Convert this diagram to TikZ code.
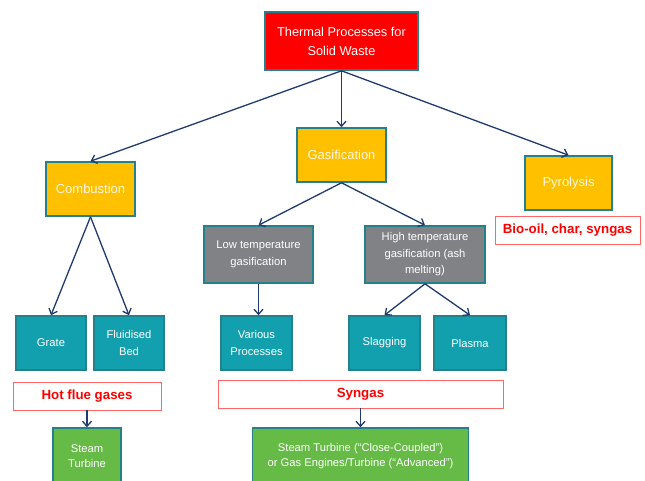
\documentclass[tikz,border=0pt]{standalone}
\usepackage{fontspec}
\setmainfont{Liberation Sans}
\usetikzlibrary{arrows.meta}
\definecolor{tred}{HTML}{FF0000}
\definecolor{tyel}{HTML}{FFC000}
\definecolor{tgray}{HTML}{808285}
\definecolor{tteal}{HTML}{12A0AE}
\definecolor{tgreen}{HTML}{66BB46}
\definecolor{tborder}{HTML}{24818C}
\definecolor{tarrow}{HTML}{1F3A6E}
\definecolor{ttext}{HTML}{FFF8E8}
\tikzset{
  box/.style={draw=tborder, line width=1.6pt, align=center, text=white, inner sep=1pt},
  titlebox/.style={box, fill=tred, font=\fontsize{12.8}{19}\selectfont},
  yelbox/.style={box, fill=tyel, text=ttext, font=\fontsize{13}{16}\selectfont},
  graybox/.style={box, fill=tgray, font=\fontsize{11.2}{16.5}\selectfont},
  tealbox/.style={box, fill=tteal, font=\fontsize{11.2}{17}\selectfont},
  greenbox/.style={box, fill=tgreen, font=\fontsize{11.2}{15}\selectfont},
  redlabel/.style={draw=tred!60, line width=0.8pt, fill=white, text=tred, font=\bfseries\fontsize{13.3}{16}\selectfont, inner sep=1pt},
  arr/.style={draw=tarrow, line width=1.3pt, -{Straight Barb[length=5pt,width=9pt]}},
}
\begin{document}
\begin{tikzpicture}[x=1pt,y=-1pt]
\useasboundingbox (0,0) rectangle (645,481);
\begin{scope}
\clip (0,0) rectangle (645,481);
\node[titlebox, minimum width=153pt, minimum height=58pt] (title) at (341.5,41) {Thermal Processes for\\Solid Waste};
\node[yelbox, minimum width=89pt, minimum height=54pt] (comb) at (90.5,189) {Combustion};
\node[yelbox, minimum width=89pt, minimum height=54pt] (gas) at (341.5,155) {Gasification};
\node[yelbox, minimum width=87pt, minimum height=54pt] (pyro) at (568.5,183) {Pyrolysis};
\node[redlabel, minimum width=145pt, minimum height=28pt] (bio) at (567.5,230) {Bio-oil, char, syngas};
\node[graybox, minimum width=109pt, minimum height=57pt] (low) at (258.5,254.5) {Low temperature\\gasification};
\node[graybox, minimum width=120pt, minimum height=57pt] (high) at (425,254.5) {High temperature\\gasification (ash\\melting)};
\node[tealbox, minimum width=70pt, minimum height=54pt] (grate) at (51,343) {Grate};
\node[tealbox, minimum width=70pt, minimum height=54pt] (fluid) at (129,343) {Fluidised\\Bed};
\node[redlabel, minimum width=148pt, minimum height=28pt] (hot) at (87,396) {Hot flue gases};
\node[tealbox, minimum width=71pt, minimum height=54pt] (various) at (256.5,343) {Various\\Processes};
\node[tealbox, minimum width=71pt, minimum height=54pt] (slag) at (384.5,343) {Slagging};
\node[tealbox, minimum width=72pt, minimum height=54pt] (plasma) at (470,343) {Plasma};
\node[redlabel, minimum width=285pt, minimum height=28pt] (syngas) at (360.5,394) {Syngas};
\node[greenbox, minimum width=68pt, minimum height=56pt] (steam1) at (87,456) {Steam\\Turbine};
\node[greenbox, minimum width=216pt, minimum height=56pt] (steam2) at (360.5,456) {Steam Turbine (“Close-Coupled”)\\or Gas Engines/Turbine (“Advanced”)};
\end{scope}
\draw[arr] (title.south) -- (comb.north);
\draw[arr] (title.south) -- (gas.north);
\draw[arr] (title.south) -- (pyro.north);
\draw[arr] (comb.south) -- (grate.north);
\draw[arr] (comb.south) -- (fluid.north);
\draw[arr] (gas.south) -- (low.north);
\draw[arr] (gas.south) -- (high.north);
\draw[arr] (low.south) -- (low.south |- various.north);
\draw[arr] (high.south) -- (slag.north);
\draw[arr] (high.south) -- (plasma.north);
\draw[arr] (hot.south) -- (steam1.north);
\draw[arr] (syngas.south) -- (steam2.north);
\end{tikzpicture}
\end{document}
